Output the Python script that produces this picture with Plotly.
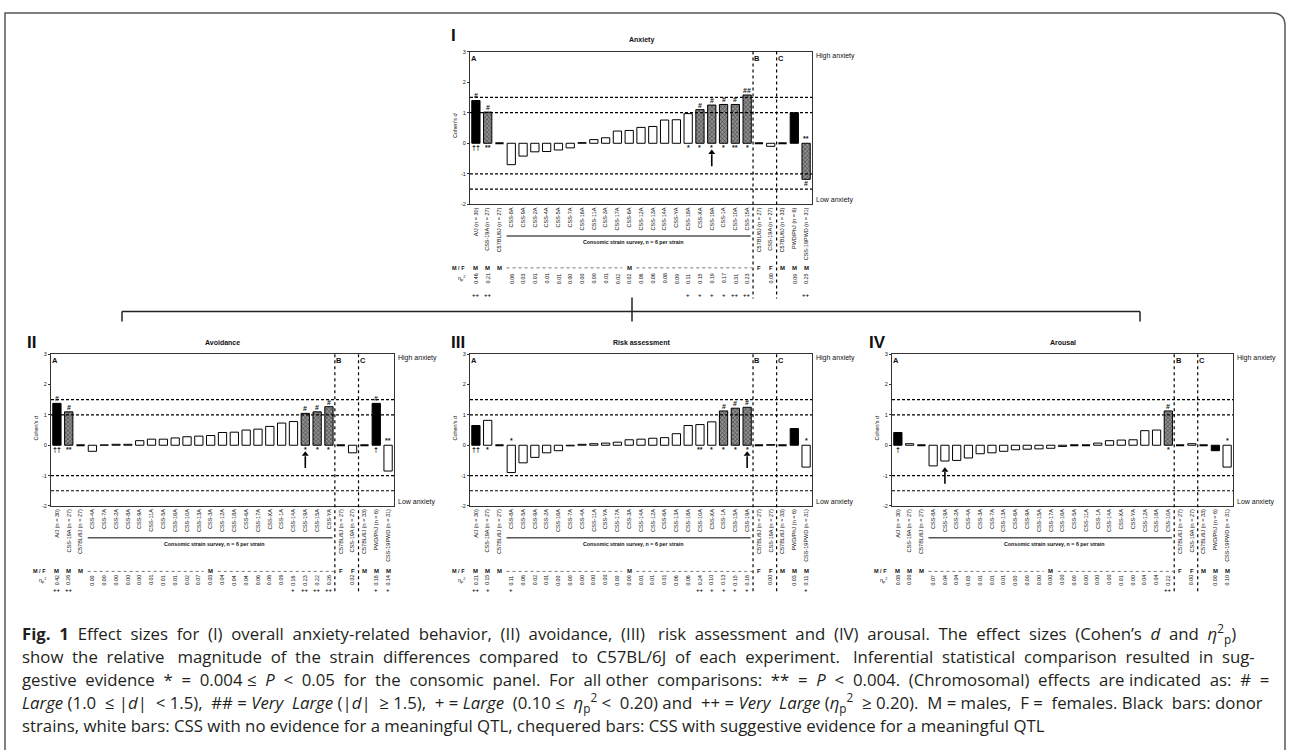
import plotly.graph_objects as go

W, H = 1292, 750
FONT = "Liberation Sans, Arial, sans-serif"

# ------------------------------------------------------------------ data
# Panel I : Anxiety
anx_labels = ["A/J (n = 30)", "CSS-19A (n = 27)", "C57BL/6J (n = 27)",
              "CSS-8A", "CSS-9A", "CSS-2A", "CSS-4A", "CSS-5A", "CSS-7A", "CSS-16A",
              "CSS-11A", "CSS-3A", "CSS-17A", "CSS-6A", "CSS-12A", "CSS-13A", "CSS-14A",
              "CSS-YA", "CSS-18A", "CSS-XA", "CSS-19A", "CSS-1A", "CSS-10A", "CSS-15A",
              "C57BL/6J (n = 27)", "CSS-19A (n = 27)",
              "C57BL/6J (n = 33)", "PWD/PhJ (n = 6)", "CSS-19PWD (n = 31)"]
anx_d = [1.40, 1.02, 0.0,
         -0.70, -0.42, -0.28, -0.27, -0.22, -0.15, 0.02, 0.12, 0.18, 0.40, 0.42,
         0.52, 0.55, 0.76, 0.77, 0.97, 1.10, 1.25, 1.27, 1.27, 1.58,
         0.0, -0.10,
         0.0, 1.00, -1.18]
anx_group = ["donor", "qtl", "ref"] + ["none"] * 16 + ["qtl"] * 5 + ["ref", "none", "ref", "donor", "qtl"]
anx_eta = ["0.46", "0.21", "",
           "0.06", "0.03", "0.01", "0.01", "0.01", "0.00", "0.00", "0.00", "0.01", "0.02", "0.02",
           "0.06", "0.06", "0.08", "0.09", "0.11", "0.15", "0.19", "0.17", "0.31", "0.23",
           "", "0.00", "", "0.09", "0.25"]
anx_plus = {0: "++", 1: "++", 18: "+", 19: "+", 20: "+", 21: "+", 22: "++", 23: "++", 28: "++"}
anx_top = {0: "#", 1: "#", 19: "#", 20: "#", 21: "#", 22: "#", 23: "##", 28: "**"}
anx_bot = {0: "††", 1: "**", 18: "*", 19: "*", 20: "*", 21: "*", 22: "**", 23: "*", 28: "#"}
anx_arrow = 20

# Panel II : Avoidance
avo_labels = ["A/J (n = 30)", "CSS-19A (n = 27)", "C57BL/6J (n = 27)",
              "CSS-4A", "CSS-7A", "CSS-2A", "CSS-8A", "CSS-9A", "CSS-11A", "CSS-5A",
              "CSS-16A", "CSS-10A", "CSS-13A", "CSS-3A", "CSS-12A", "CSS-18A", "CSS-6A",
              "CSS-17A", "CSS-XA", "CSS-1A", "CSS-14A", "CSS-19A", "CSS-15A", "CSS-YA",
              "C57BL/6J (n = 27)", "CSS-19A (n = 27)",
              "C57BL/6J (n = 33)", "PWD/PhJ (n = 6)", "CSS-19PWD (n = 31)"]
avo_d = [1.38, 1.10, 0.0,
         -0.20, 0.01, 0.03, 0.03, 0.15, 0.20, 0.20, 0.24, 0.28, 0.30, 0.32,
         0.42, 0.43, 0.50, 0.53, 0.62, 0.73, 0.78, 1.05, 1.10, 1.27,
         0.0, -0.25,
         0.0, 1.38, -0.85]
avo_group = ["donor", "qtl", "ref"] + ["none"] * 18 + ["qtl"] * 3 + ["ref", "none", "ref", "donor", "none"]
avo_eta = ["0.42", "0.26", "",
           "0.00", "0.00", "0.00", "0.00", "0.00", "0.01", "0.01", "0.01", "0.02", "0.07", "0.03",
           "0.04", "0.04", "0.04", "0.06", "0.06", "0.09", "0.16", "0.23", "0.22", "0.26",
           "", "0.02", "", "0.18", "0.14"]
avo_plus = {0: "++", 1: "++", 20: "+", 21: "++", 22: "++", 23: "++", 27: "+", 28: "+"}
avo_top = {0: "#", 1: "#", 21: "#", 22: "#", 23: "#", 27: "#", 28: "**"}
avo_bot = {0: "††", 1: "**", 21: "*", 22: "*", 23: "*", 27: "†"}
avo_arrow = 21

# Panel III : Risk assessment
ris_labels = ["A/J (n = 30)", "CSS-19A (n = 27)", "C57BL/6J (n = 27)",
              "CSS-8A", "CSS-5A", "CSS-9A", "CSS-2A", "CSS-16A", "CSS-7A", "CSS-4A",
              "CSS-11A", "CSS-YA", "CSS-17A", "CSS-3A", "CSS-14A", "CSS-12A", "CSS-6A",
              "CSS-13A", "CSS-18A", "CSS-10A", "CSS-XA", "CSS-1A", "CSS-15A", "CSS-19A",
              "C57BL/6J (n = 27)", "CSS-19A (n = 27)",
              "C57BL/6J (n = 33)", "PWD/PhJ (n = 6)", "CSS-19PWD (n = 31)"]
ris_d = [0.65, 0.82, 0.0,
         -0.90, -0.58, -0.40, -0.25, -0.18, -0.02, 0.03, 0.05, 0.07, 0.10, 0.18,
         0.20, 0.23, 0.25, 0.38, 0.65, 0.68, 0.77, 1.13, 1.22, 1.25,
         0.0, 0.02,
         0.0, 0.55, -0.72]
ris_group = ["donor", "none", "ref"] + ["none"] * 18 + ["qtl"] * 3 + ["ref", "none", "ref", "donor", "none"]
ris_eta = ["0.21", "0.15", "",
           "0.11", "0.06", "0.02", "0.01", "0.00", "0.00", "0.00", "0.00", "0.00", "0.00", "0.00",
           "0.01", "0.01", "0.01", "0.06", "0.06", "0.24", "0.10", "0.13", "0.15", "0.18",
           "", "0.00", "", "0.03", "0.11"]
ris_plus = {0: "++", 1: "+", 3: "+", 19: "++", 20: "+", 21: "+", 22: "+", 23: "+", 28: "+"}
ris_top = {3: "*", 21: "#", 22: "#", 23: "#", 28: "*"}
ris_bot = {0: "††", 1: "*", 19: "**", 20: "*", 21: "*", 22: "*", 23: "*"}
ris_arrow = 23

# Panel IV : Arousal
aro_labels = ["A/J (n = 30)", "CSS-19A (n = 27)", "C57BL/6J (n = 27)",
              "CSS-8A", "CSS-19A", "CSS-2A", "CSS-4A", "CSS-3A", "CSS-7A", "CSS-13A",
              "CSS-6A", "CSS-9A", "CSS-15A", "CSS-17A", "CSS-16A", "CSS-5A", "CSS-11A",
              "CSS-1A", "CSS-14A", "CSS-XA", "CSS-YA", "CSS-12A", "CSS-18A", "CSS-10A",
              "C57BL/6J (n = 27)", "CSS-19A (n = 27)",
              "C57BL/6J (n = 33)", "PWD/PhJ (n = 6)", "CSS-19PWD (n = 31)"]
aro_d = [0.42, 0.05, 0.0,
         -0.68, -0.52, -0.50, -0.42, -0.28, -0.25, -0.20, -0.15, -0.13, -0.12, -0.10,
         -0.04, 0.0, 0.0, 0.07, 0.15, 0.17, 0.18, 0.48, 0.50, 1.13,
         0.0, 0.05,
         0.0, -0.18, -0.72]
aro_group = ["donor", "none", "ref"] + ["none"] * 20 + ["qtl"] + ["ref", "none", "ref", "donor", "none"]
aro_eta = ["0.08", "0.00", "",
           "0.07", "0.04", "0.04", "0.03", "0.01", "0.01", "0.01", "0.00", "0.00", "0.00", "0.00",
           "0.00", "0.00", "0.00", "0.00", "0.00", "0.01", "0.00", "0.04", "0.04", "0.22",
           "", "0.00", "", "0.00", "0.10"]
aro_plus = {23: "++"}
aro_top = {23: "#", 28: "*"}
aro_bot = {0: "†", 23: "*"}
aro_arrow = 4

sex_row = ["M", "M", "M"] + [""] * 10 + ["M"] + [""] * 10 + ["F", "F", "M", "M", "M"]
y_ticks = [-2, -1, 0, 1, 2, 3]
threshold_lines = [-1.5, -1.0, 1.0, 1.5]
section_names = ["A", "B", "C"]
section_starts = [0, 24, 26]

caption = [
    "<b>Fig. 1</b> Effect sizes for (I) overall anxiety-related behavior, (II) avoidance, (III) risk "
    "assessment and (IV) arousal. The effect sizes (Cohen’s <i>d</i> and <i>η</i><sup>2</sup><sub>p</sub>)",
    "show the relative magnitude of the strain differences compared to C57BL/6J of each experiment. "
    "Inferential statistical comparison resulted in sug-",
    "gestive evidence * = 0.004 ≤ <i>P</i> &lt; 0.05 for the consomic panel. For all other comparisons: "
    "** = <i>P</i> &lt; 0.004. (Chromosomal) effects are indicated as: # =",
    "<i>Large</i> (1.0 ≤ |<i>d</i>| &lt; 1.5), ## = <i>Very Large</i> (|<i>d</i>| ≥ 1.5), + = <i>Large</i> "
    "(0.10 ≤ <i>η</i><sub>p</sub><sup>2</sup> &lt; 0.20) and ++ = <i>Very Large</i> "
    "(<i>η</i><sub>p</sub><sup>2</sup> ≥ 0.20). M = males, F = females. Black bars: donor",
    "strains, white bars: CSS with no evidence for a meaningful QTL, chequered bars: CSS with "
    "suggestive evidence for a meaningful QTL",
]

# ------------------------------------------------------------------ layout helpers
def px(x):
    return x / W


def py(y):
    return 1 - y / H


CAP_FS = 16.8
CAP_EXTRA = [105, 98, 110, 70, 0]   # extra px of word spacing to justify each line


def justify(line, extra):
    n_sp = line.count(" ")
    if extra <= 0 or n_sp == 0:
        return line
    unit = 0.26 * CAP_FS
    out, used = [], 0
    parts = line.split(" ")
    for j, part in enumerate(parts[:-1]):
        target = round(extra * (j + 1) / n_sp / unit)
        k = max(target - used, 0)
        used += k
        out.append(part + " " + "\u00a0" * k)
    out.append(parts[-1])
    return "".join(out)


panels = [
    dict(num="I", title="Anxiety", box=(470, 812, 49, 203), rows=(64, 75, 91),
         labels=anx_labels, d=anx_d, group=anx_group, eta=anx_eta, plus=anx_plus,
         top=anx_top, bot=anx_bot, arrow=anx_arrow, num_x=450, num_y=33),
    dict(num="II", title="Avoidance", box=(51, 394, 354, 507), rows=(66, 75, 85),
         labels=avo_labels, d=avo_d, group=avo_group, eta=avo_eta, plus=avo_plus,
         top=avo_top, bot=avo_bot, arrow=avo_arrow, num_x=26, num_y=342),
    dict(num="III", title="Risk assessment", box=(470, 812, 354, 507), rows=(66, 75, 85),
         labels=ris_labels, d=ris_d, group=ris_group, eta=ris_eta, plus=ris_plus,
         top=ris_top, bot=ris_bot, arrow=ris_arrow, num_x=450, num_y=342),
    dict(num="IV", title="Arousal", box=(892, 1233, 354, 507), rows=(66, 75, 85),
         labels=aro_labels, d=aro_d, group=aro_group, eta=aro_eta, plus=aro_plus,
         top=aro_top, bot=aro_bot, arrow=aro_arrow, num_x=868, num_y=342),
]

fig = go.Figure()
shapes, annotations = [], []
layout_axes = {}

chequer = dict(shape="x", fgcolor="#2e2e2e", bgcolor="#8e8e8e", size=3, solidity=0.3, fillmode="replace")
styles = {
    "none": dict(color="white"),
    "ref": dict(color="white"),
    "donor": dict(color="black"),
    "qtl": dict(color="#8e8e8e", pattern=chequer),
}


def note(text, xref, yref, x, y, size, xanchor="center", yanchor="middle", **kw):
    d = dict(text=text, xref=xref, yref=yref, x=x, y=y, xanchor=xanchor, yanchor=yanchor,
             showarrow=False, borderpad=0, font=dict(size=size, color="#111", family=FONT))
    d.update(kw)
    annotations.append(d)


for k, p in enumerate(panels, start=1):
    suf = "" if k == 1 else str(k)
    xa, ya = "x" + suf, "y" + suf
    x0, x1, y0, y1 = p["box"]
    labels, d, grp = p["labels"], p["d"], p["group"]
    n = len(labels)
    idx = list(range(n))

    for g in ["none", "ref", "donor", "qtl"]:
        xs = [i for i in idx if grp[i] == g and d[i] != 0]
        if not xs:
            continue
        fig.add_trace(go.Bar(
            x=xs, y=[d[i] for i in xs], xaxis=xa, yaxis=ya, width=0.7,
            marker=dict(line=dict(color="black", width=1), **styles[g]),
            showlegend=False, hoverinfo="skip"))
    # zero-valued bars are drawn as flat outlines at 0
    zx, zy = [], []
    for i in idx:
        if d[i] == 0:
            zx += [i - 0.35, i + 0.35, None]
            zy += [d[i], d[i], None]
    fig.add_trace(go.Scatter(x=zx, y=zy, mode="lines", xaxis=xa, yaxis=ya,
                             line=dict(color="black", width=1.8),
                             showlegend=False, hoverinfo="skip"))

    # arrow marking CSS-19A
    ai = p["arrow"]
    base = min(d[ai], 0)
    fig.add_trace(go.Scatter(x=[ai, ai], y=[base - 0.75, base - 0.36], mode="lines",
                             xaxis=xa, yaxis=ya, line=dict(color="black", width=1.6),
                             showlegend=False, hoverinfo="skip"))
    fig.add_trace(go.Scatter(x=[ai], y=[base - 0.3], mode="markers", xaxis=xa, yaxis=ya,
                             marker=dict(symbol="triangle-up", size=6, color="black"),
                             showlegend=False, hoverinfo="skip"))

    layout_axes["xaxis" + suf] = dict(
        domain=[px(x0), px(x1)], range=[-0.5, n - 0.5], anchor=ya,
        tickmode="array", tickvals=idx, ticktext=labels, tickangle=-90,
        tickfont=dict(size=5.5, color="#111", family=FONT), ticks="",
        showgrid=False, zeroline=False, showline=True, linecolor="#333",
        linewidth=1, mirror=True, fixedrange=True)
    layout_axes["yaxis" + suf] = dict(
        domain=[py(y1), py(y0)], range=[-2, 3], anchor=xa,
        tickmode="array", tickvals=y_ticks, ticktext=[str(t) for t in y_ticks],
        ticks="outside", ticklen=2, tickwidth=1, tickcolor="#333",
        tickfont=dict(size=5.5, color="#111", family=FONT),
        showgrid=False, zeroline=False, showline=True, linecolor="#333",
        linewidth=1, mirror=True, fixedrange=True)

    # threshold lines
    for t in threshold_lines:
        shapes.append(dict(type="line", xref=xa + " domain", yref=ya, x0=0, x1=1, y0=t, y1=t,
                           line=dict(color="black", width=1.2, dash="3px,2px")))
    # section separators
    rows = p["rows"]
    for s in section_starts[1:]:
        shapes.append(dict(type="line", xref=xa, yref="paper", x0=s - 0.5, x1=s - 0.5,
                           y0=py(y0), y1=py(y1 + rows[2] + 4),
                           line=dict(color="black", width=1.2, dash="dot")))
    for name, s in zip(section_names, section_starts):
        note("<b>%s</b>" % name, xa, "paper", s - 0.47, py(y0 + 1), 7.5,
             xanchor="left", yanchor="top")

    # titles and labels
    note("<b>%s</b>" % p["title"], "paper", "paper", px((x0 + x1) / 2), py(y0 - 12), 7)
    note("<b>%s</b>" % p["num"], "paper", "paper", px(p["num_x"]), py(p["num_y"]), 17,
         xanchor="left")
    note("Cohen's <i>d</i>", "paper", "paper", px(x0 - 15), py(y0 + 74), 5.5, textangle=-90)
    note("High anxiety", "paper", "paper", px(x1 + 3), py(y0 + 4), 7, xanchor="left")
    note("Low anxiety", "paper", "paper", px(x1 + 3), py(y1 - 4), 7, xanchor="left")

    # consomic survey bracket
    shapes.append(dict(type="line", xref=xa, yref="paper", x0=2.6, x1=23.3,
                       y0=py(y1 + 32), y1=py(y1 + 32), line=dict(color="#555", width=1.5)))
    note("<b>Consomic strain survey, n = 6 per strain</b>", xa, "paper", 13.3, py(y1 + 38), 5.3)

    # M/F row, effect size row, significance row
    note("<b>M / F</b>", "paper", "paper", px(x0 - 4), py(y1 + rows[0]), 5.5, xanchor="right")
    note("η<sub>p</sub><sup>2</sup>", "paper", "paper", px(x0 - 4), py(y1 + rows[1]), 5.5,
         xanchor="right")
    for i, s in enumerate(sex_row):
        if s:
            note("<b>%s</b>" % s, xa, "paper", i, py(y1 + rows[0]), 6)
    for a, b in [(2.6, 12.4), (13.6, 23.4)]:
        shapes.append(dict(type="line", xref=xa, yref="paper", x0=a, x1=b,
                           y0=py(y1 + rows[0]), y1=py(y1 + rows[0]),
                           line=dict(color="#555", width=0.8, dash="dot")))
    for i, e in enumerate(p["eta"]):
        if e:
            note(e, xa, "paper", i, py(y1 + rows[1]), 5.3, textangle=-90)
    for i, s in p["plus"].items():
        note("<b>%s</b>" % s, xa, "paper", i, py(y1 + rows[2]), 6)

    # marks above / below bars
    for i, s in p["top"].items():
        note("<b>%s</b>" % s, xa, ya, i, max(d[i], 0), 7, yanchor="bottom")
    for i, s in p["bot"].items():
        note("<b>%s</b>" % s, xa, ya, i, min(d[i], 0), 7, yanchor="top")

# connector between top and bottom panels
for x_a, y_a, x_b, y_b in [(122, 311, 1140, 311), (632, 297, 632, 321),
                           (122, 311, 122, 321), (1140, 311, 1140, 321)]:
    shapes.append(dict(type="line", xref="paper", yref="paper", x0=px(x_a), x1=px(x_b),
                       y0=py(y_a), y1=py(y_b), line=dict(color="#222", width=1.5)))

# outer frame with rounded top-right corner
path = "M %f,%f L %f,%f L %f,%f Q %f,%f %f,%f L %f,%f" % (
    px(5), py(760), px(5), py(10), px(1272), py(10), px(1285), py(10), px(1285), py(23),
    px(1285), py(760))
shapes.append(dict(type="path", xref="paper", yref="paper", path=path,
                   line=dict(color="#555", width=1.5)))

# caption
for j, line in enumerate(caption):
    annotations.append(dict(text=justify(line, CAP_EXTRA[j]), xref="paper", yref="paper",
                            x=px(20), y=py(636 + 23 * j), xanchor="left", yanchor="middle",
                            showarrow=False,
                            font=dict(size=CAP_FS, color="#231f20",
                                      family="Open Sans, Noto Sans, sans-serif")))

fig.update_layout(
    width=W, height=H, margin=dict(l=0, r=0, t=0, b=0),
    paper_bgcolor="white", plot_bgcolor="white", barmode="overlay",
    font=dict(family=FONT, color="#111"),
    shapes=shapes, annotations=annotations, showlegend=False,
    **layout_axes)

fig.write_html("out.html")
